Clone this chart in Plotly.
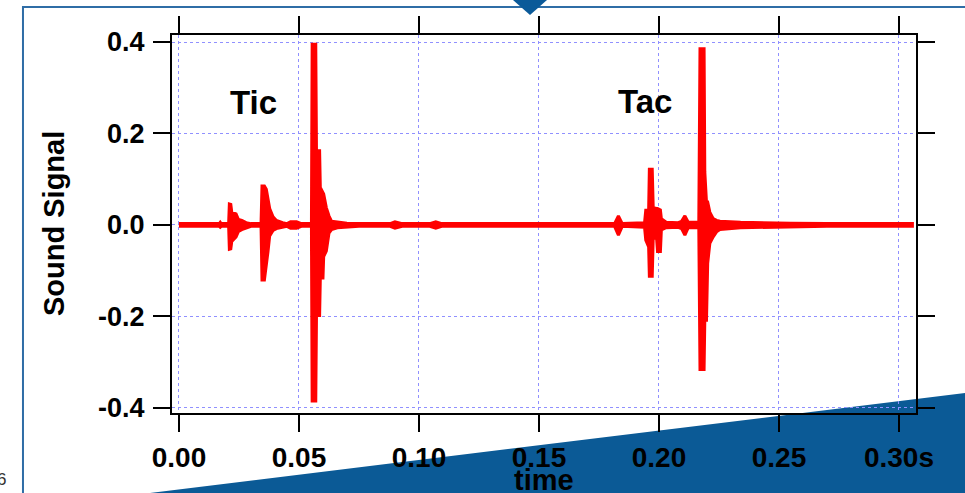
import plotly.graph_objects as go

# ---- data: envelope of the sound signal ----
time_s = [0.0000, 0.0168, 0.0172, 0.0176, 0.0207, 0.0210, 0.0216, 0.0220, 0.0238, 0.0248,
          0.0262, 0.0280, 0.0300, 0.0342, 0.0346, 0.0356, 0.0364, 0.0371, 0.0378, 0.0392,
          0.0406, 0.0432, 0.0450, 0.0465, 0.0490, 0.0510, 0.0552, 0.0555, 0.0570, 0.0573,
          0.0586, 0.0589, 0.0600, 0.0603, 0.0614, 0.0625, 0.0636, 0.0660, 0.0700, 0.0750,
          0.0880, 0.0900, 0.0930, 0.1045, 0.1070, 0.1095, 0.1815, 0.1831, 0.1847, 0.1940,
          0.1945, 0.1957, 0.1960, 0.1972, 0.1976, 0.1990, 0.1994, 0.2006, 0.2010, 0.2030,
          0.2080, 0.2094, 0.2108, 0.2122, 0.2166, 0.2171, 0.2188, 0.2191, 0.2198, 0.2203,
          0.2212, 0.2226, 0.2240, 0.2254, 0.2340, 0.2550, 0.2700, 0.3056]
upper_env = [0.003, 0.003, 0.006, 0.003, 0.003, 0.046, 0.045, 0.028, 0.024, 0.012,
             0.010, 0.005, 0.003, 0.003, 0.085, 0.085, 0.078, 0.058, 0.036, 0.018,
             0.010, 0.005, 0.003, 0.007, 0.007, 0.003, 0.003, 0.395, 0.395, 0.162,
             0.162, 0.082, 0.068, 0.068, 0.038, 0.020, 0.008, 0.006, 0.004, 0.003,
             0.003, 0.007, 0.003, 0.003, 0.007, 0.003, 0.003, 0.020, 0.003, 0.005,
             0.032, 0.032, 0.122, 0.122, 0.038, 0.036, 0.036, 0.033, 0.014, 0.006,
             0.005, 0.008, 0.020, 0.006, 0.006, 0.385, 0.385, 0.116, 0.050, 0.050,
             0.028, 0.014, 0.010, 0.008, 0.006, 0.004, 0.003, 0.003]
lower_env = [-0.003, -0.003, -0.005, -0.003, -0.003, -0.053, -0.052, -0.036, -0.026, -0.014,
             -0.010, -0.006, -0.003, -0.003, -0.120, -0.120, -0.088, -0.058, -0.024, -0.012,
             -0.008, -0.005, -0.003, -0.007, -0.007, -0.003, -0.003, -0.385, -0.385, -0.198,
             -0.198, -0.116, -0.116, -0.069, -0.057, -0.018, -0.010, -0.006, -0.004, -0.003,
             -0.003, -0.007, -0.003, -0.003, -0.007, -0.003, -0.003, -0.022, -0.003, -0.005,
             -0.033, -0.048, -0.112, -0.112, -0.029, -0.029, -0.058, -0.058, -0.011, -0.006,
             -0.005, -0.008, -0.022, -0.006, -0.006, -0.316, -0.316, -0.208, -0.208, -0.084,
             -0.040, -0.026, -0.015, -0.010, -0.006, -0.004, -0.003, -0.003]

x_tickvals = [0.00, 0.05, 0.10, 0.15, 0.20, 0.25, 0.30]
x_ticktext = ["0.00", "0.05", "0.10", "0.15", "0.20", "0.25", "0.30s"]
y_tickvals = [-0.4, -0.2, 0.0, 0.2, 0.4]
y_ticktext = ["-0.4", "-0.2", "0.0", "0.2", "0.4"]

labels = ["Tic", "Tac"]
label_x = [0.031, 0.194]
label_y = [0.267, 0.270]

FONT = "Liberation Sans, Arial, Helvetica, sans-serif"
RED = "#ff0000"
GRID = "#9090ff"

poly_x = time_s + time_s[::-1]
poly_y = upper_env + lower_env[::-1]

fig = go.Figure()
fig.add_trace(go.Scatter(
    x=poly_x, y=poly_y, mode="lines", fill="toself",
    fillcolor=RED, line=dict(color=RED, width=3),
    hoverinfo="skip", showlegend=False,
))

for txt, lx, ly in zip(labels, label_x, label_y):
    fig.add_annotation(x=lx, y=ly, text=txt, showarrow=False,
                       xanchor="center", yanchor="middle",
                       font=dict(family=FONT, size=33, color="black", weight="bold"))

# axis titles as annotations for exact placement
fig.add_annotation(x=0.5, y=-0.177, xref="paper", yref="paper", text="time",
                   showarrow=False, xanchor="center", yanchor="middle",
                   font=dict(family=FONT, size=29, color="black", weight="bold"))
fig.add_annotation(x=-0.1586, y=0.5, xref="paper", yref="paper", text="Sound Signal",
                   textangle=-90, showarrow=False, xanchor="center", yanchor="middle",
                   font=dict(family=FONT, size=29, color="black", weight="bold"))
# partially visible glyph at the left edge of the slide
fig.add_annotation(x=-0.2204, y=-0.175, xref="paper", yref="paper", text="6",
                   showarrow=False, xanchor="right", yanchor="middle",
                   font=dict(family=FONT, size=17, color="#333333"))

# slide decorations
BLUE = "#0b5a96"
fig.add_shape(type="path", xref="paper", yref="paper", layer="below",
              path="M -0.0296,-0.2116 L 1.08,0.0563 L 1.08,-0.25 L -0.0296,-0.25 Z",
              fillcolor=BLUE, line=dict(width=0))
fig.add_shape(type="path", xref="paper", yref="paper", layer="above",
              path="M -0.2003,-0.25 L -0.2003,1.0741 L 1.08,1.0741",
              line=dict(color="#2f6da6", width=2))
fig.add_shape(type="path", xref="paper", yref="paper", layer="above",
              path="M 0.4583,1.0926 L 0.5040,1.0926 L 0.4812,1.0529 Z",
              fillcolor="#0b5a99", line=dict(width=0))

axis_common = dict(
    showline=True, linecolor="black", linewidth=2, mirror="ticks",
    ticks="outside", ticklen=17, tickwidth=2, tickcolor="black",
    showgrid=True, gridcolor=GRID, gridwidth=1, griddash="3px,3px",
    zeroline=False,
)
fig.update_xaxes(range=[-0.0029, 0.3071], tickvals=x_tickvals, ticktext=x_ticktext,
                 tickfont=dict(family=FONT, size=28, color="black", weight="bold"),
                 ticklabelstandoff=1, **axis_common)
fig.update_yaxes(range=[-0.411, 0.4153], tickvals=y_tickvals, ticktext=y_ticktext,
                 tickfont=dict(family=FONT, size=27, color="black", weight="bold"),
                 ticklabelstandoff=3, **axis_common)

fig.update_layout(
    width=965, height=493,
    margin=dict(l=172, r=49, t=35, b=80),
    paper_bgcolor="white", plot_bgcolor="rgba(0,0,0,0)",
    showlegend=False,
)

fig.write_html("out.html",
               config={"displayModeBar": False, "staticPlot": True},
               post_script="document.body.style.margin='0';document.body.style.overflow='hidden';")
